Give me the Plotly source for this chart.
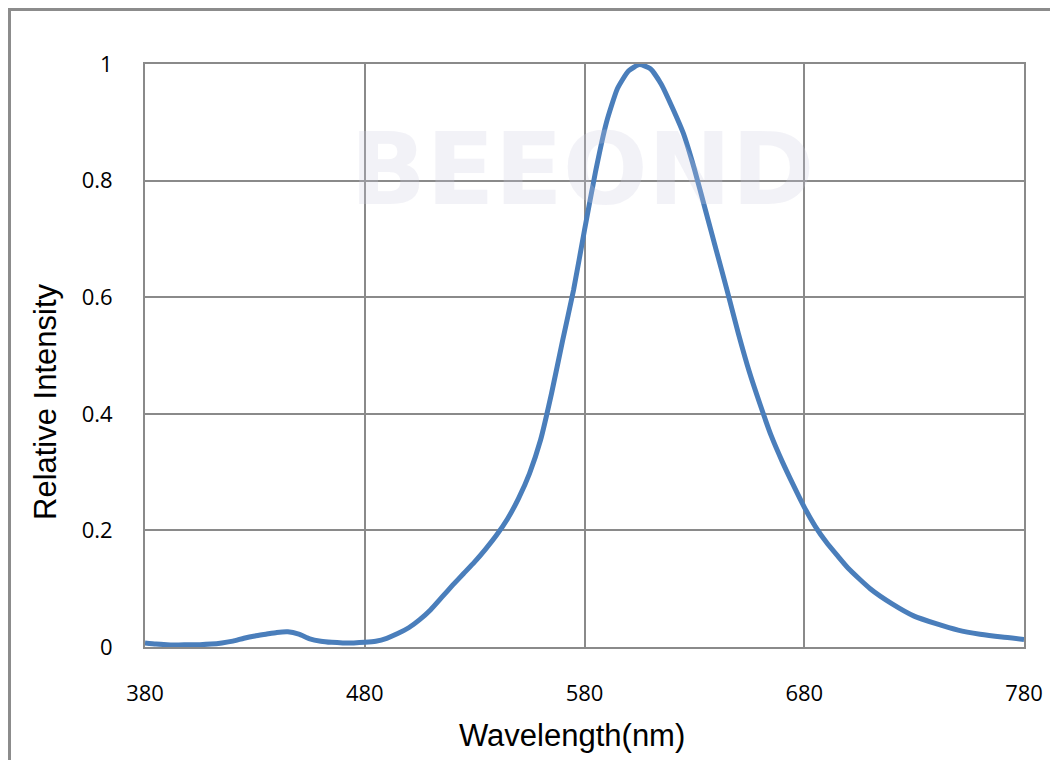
import plotly.graph_objects as go

wavelength = [380, 385, 390, 395, 400, 405, 410, 415, 420, 425, 430, 435, 440, 445,
              450, 455, 460, 465, 470, 475, 480, 485, 490, 495, 500, 505, 510, 515,
              520, 525, 530, 535, 540, 545, 550, 555, 560, 565, 570, 575, 580, 585,
              590, 595, 600, 605, 610, 615, 620, 625, 630, 635, 640, 645, 650, 655,
              660, 665, 670, 675, 680, 685, 690, 695, 700, 710, 720, 730, 740, 750,
              760, 770, 780]
intensity = [0.007, 0.005, 0.004, 0.0035, 0.004, 0.004, 0.005, 0.007, 0.010, 0.015,
             0.019, 0.022, 0.025, 0.026, 0.022, 0.014, 0.010, 0.008, 0.007, 0.007,
             0.008, 0.010, 0.015, 0.023, 0.033, 0.047, 0.064, 0.085, 0.106, 0.126,
             0.146, 0.168, 0.192, 0.220, 0.255, 0.298, 0.355, 0.435, 0.525, 0.612,
             0.715, 0.815, 0.900, 0.958, 0.988, 0.999, 0.992, 0.965, 0.925, 0.881,
             0.820, 0.750, 0.680, 0.610, 0.538, 0.472, 0.415, 0.362, 0.318, 0.278,
             0.240, 0.207, 0.180, 0.157, 0.135, 0.100, 0.074, 0.053, 0.040, 0.029,
             0.022, 0.017, 0.013]

x_ticks = [380, 480, 580, 680, 780]
y_ticks = [0, 0.2, 0.4, 0.6, 0.8, 1]
y_tick_text = ["0", "0.2", "0.4", "0.6", "0.8", "1"]

GRID = "#8a8a8a"
OFF = 8  # page body margin
W, H = 1058 - OFF, 760 - OFF
L, R, T, B = 145 - OFF, 34, 64 - OFF, 113
pw, ph = W - L - R, H - T - B


def px2paper(px, py):
    # px, py are absolute page pixels of the screenshot
    return (px - OFF - L) / pw, (H - B - (py - OFF)) / ph


fig = go.Figure()
fig.add_trace(go.Scatter(
    x=wavelength, y=intensity, mode="lines",
    line=dict(color="#4a7ebb", width=5, shape="spline", smoothing=0.5),
    hoverinfo="x+y", showlegend=False,
))

tickfont = dict(family="Open Sans, Noto Sans, sans-serif", size=22, color="#000000")

fig.update_xaxes(
    range=[380, 780], tickvals=x_ticks, ticktext=[str(v) for v in x_ticks],
    showgrid=True, gridcolor=GRID, gridwidth=2,
    showline=True, linecolor=GRID, linewidth=2, mirror=True,
    zeroline=False, ticks="", tickfont=tickfont, ticklabelstandoff=26,
)
fig.update_yaxes(
    range=[0, 1], tickvals=y_ticks, ticktext=y_tick_text,
    showgrid=True, gridcolor=GRID, gridwidth=2,
    showline=True, linecolor=GRID, linewidth=2, mirror=True,
    zeroline=False, ticks="", tickfont=tickfont, ticklabelstandoff=26,
)

# outer frame
x0, y0 = px2paper(9.5, 9.5)
x1, y1 = px2paper(1075, 780)
fig.add_shape(type="rect", xref="paper", yref="paper", x0=x0, y0=y1, x1=x1, y1=y0,
              line=dict(color="#8c8c8c", width=3), fillcolor="rgba(0,0,0,0)", layer="below")

# watermark
wx, wy = px2paper(582, 170)
fig.add_annotation(xref="paper", yref="paper", x=wx, y=wy, text="<b>BEEOND</b>",
                   xanchor="center", yanchor="middle",
                   showarrow=False, font=dict(family="DejaVu Sans", size=100,
                                              color="rgba(205,205,225,0.25)"))

# axis titles
tx, ty = px2paper(572, 735)
fig.add_annotation(xref="paper", yref="paper", x=tx, y=ty, text="Wavelength(nm)",
                   xanchor="center", yanchor="middle",
                   showarrow=False, font=dict(family="Liberation Sans, Arial", size=31, color="#000"))
ax, ay = px2paper(45, 402)
fig.add_annotation(xref="paper", yref="paper", x=ax, y=ay, text="Relative Intensity",
                   xanchor="center", yanchor="middle",
                   textangle=-90, showarrow=False,
                   font=dict(family="Liberation Sans, Arial", size=31, color="#000"))

fig.update_layout(
    width=W, height=H, margin=dict(l=L, r=R, t=T, b=B),
    paper_bgcolor="white", plot_bgcolor="white",
)

fig.write_html("out.html")
